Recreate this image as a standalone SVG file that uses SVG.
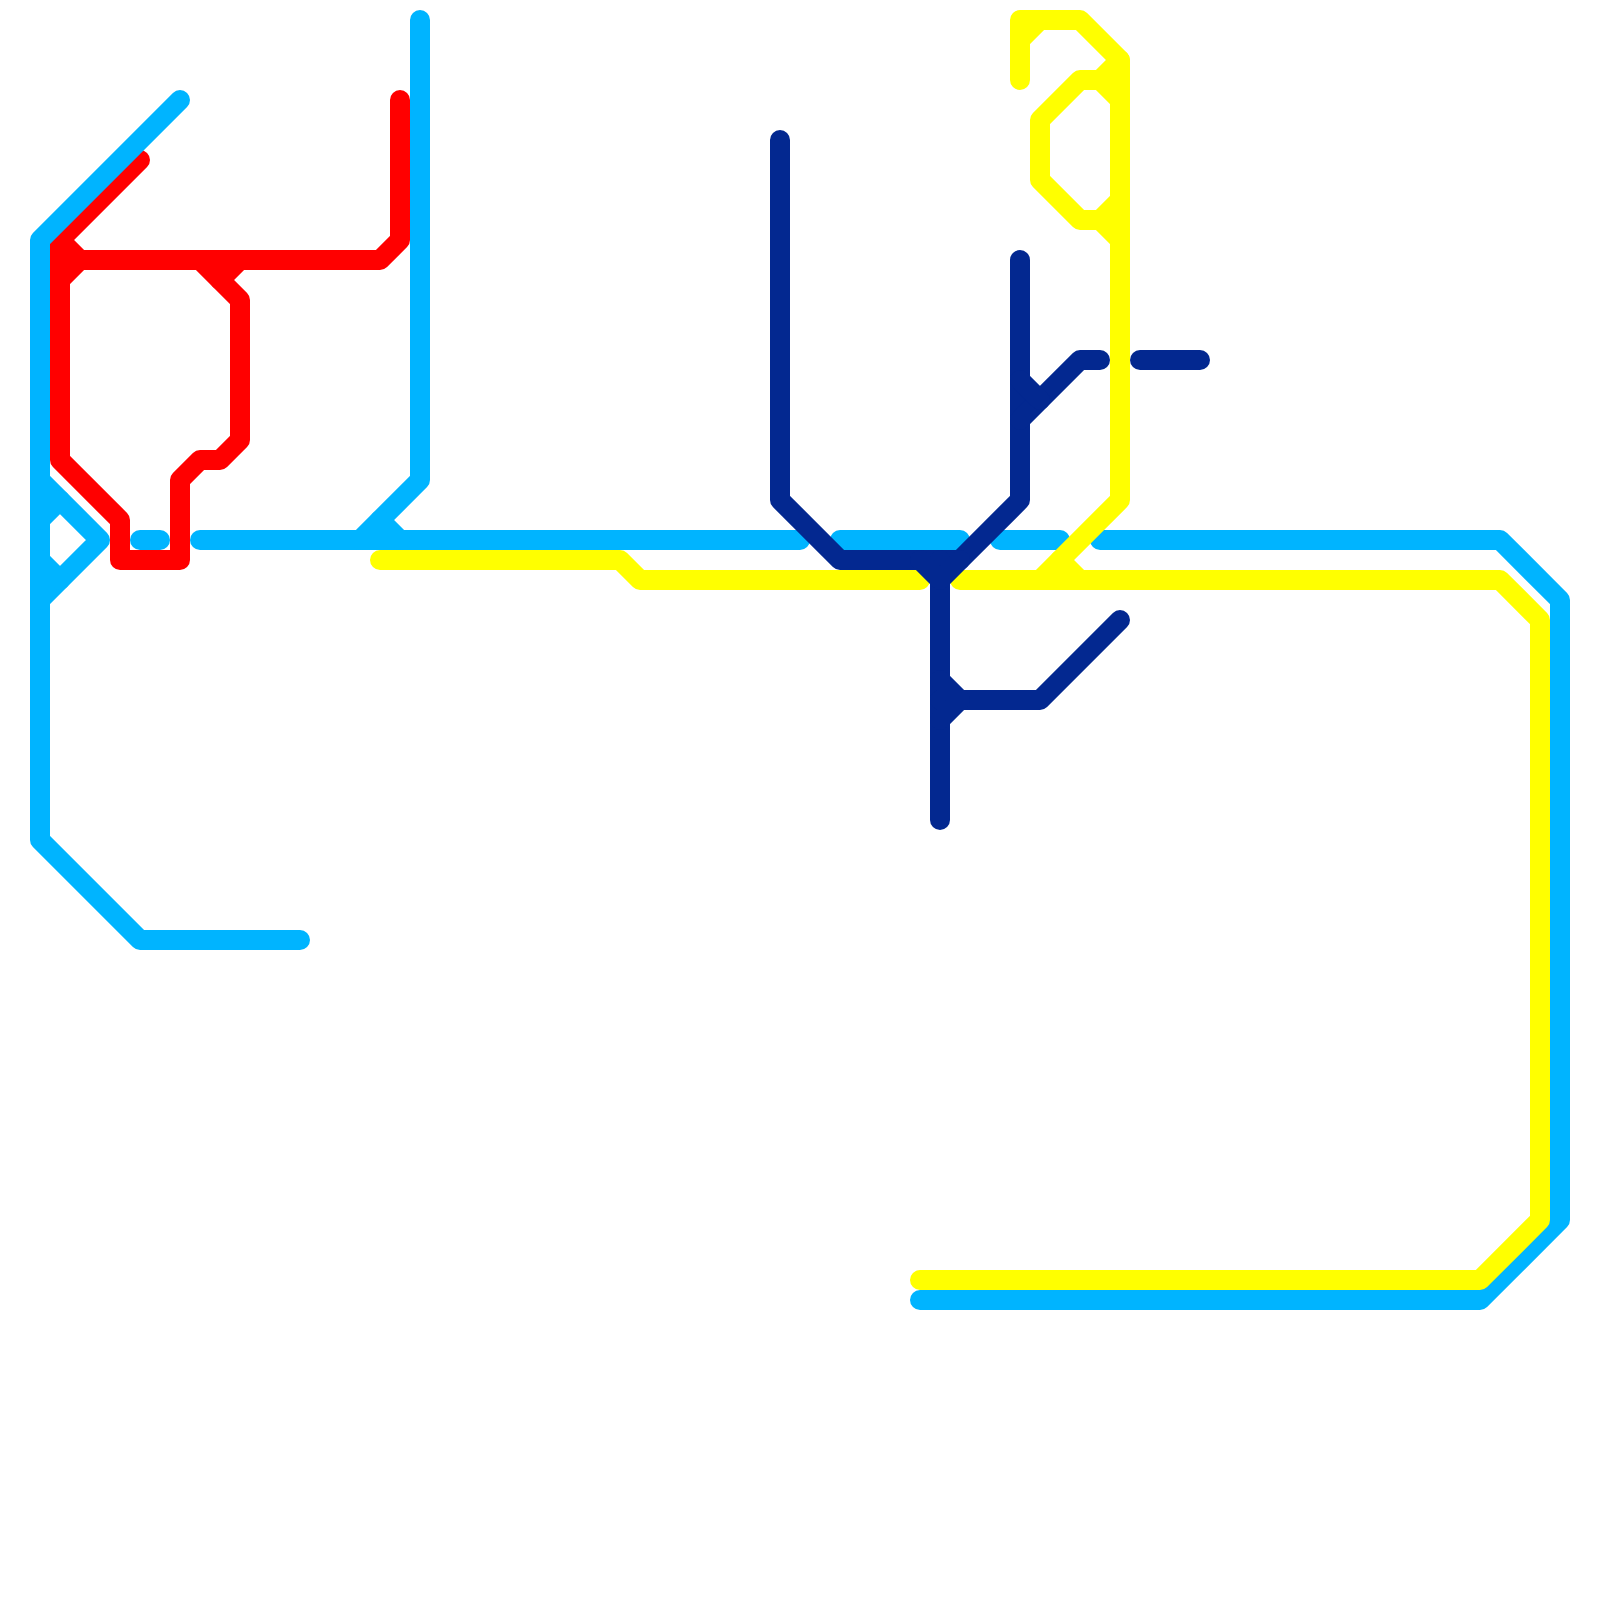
<svg xmlns="http://www.w3.org/2000/svg" width="1600" height="1600" viewBox="0 0 1600 1600">
<style>
path{fill:none;stroke-width:20;stroke-linecap:round;stroke-linejoin:round}
.red path{stroke:#ff0000}
.cyan path{stroke:#00b4ff}
.yellow path{stroke:#ffff00}
.navy path{stroke:#032890}
</style>
<rect width="1600" height="1600" fill="#ffffff"/>
<g id="connectors">
<g id="line-red" class="red">
<path d="M140 160L60 240V460L120 520V560H180V480L200 460H220L240 440V300L200 260"/>
<path d="M60 260H380L400 240V100"/>
<path d="M60 240L80 260M60 280L80 260M220 280L240 260"/>
</g>
<g id="line-cyan" class="cyan">
<path d="M180 100L40 240V840L140 940H300"/>
<path d="M40 480L100 540L40 600"/>
<path d="M40 520L60 500M40 560L60 580"/>
<path d="M140 540H160"/>
<path d="M200 540H800"/>
<path d="M420 20V480L360 540"/>
<path d="M380 520L400 540"/>
<path d="M840 540H960"/>
<path d="M1000 540H1060"/>
<path d="M1100 540H1500L1560 600V1220L1480 1300H920"/>
</g>
<g id="line-yellow" class="yellow">
<path d="M380 560H620L640 580H920"/>
<path d="M960 580H1500L1540 620V1220L1480 1280H920"/>
<path d="M1020 80V20H1080L1120 60V500L1040 580"/>
<path d="M1020 40L1040 20"/>
<path d="M1120 100L1100 80H1080L1040 120V180L1080 220H1100L1120 240"/>
<path d="M1100 80L1120 60M1100 220L1120 200"/>
<path d="M1060 560L1080 580"/>
</g>
<g id="line-navy" class="navy">
<path d="M780 140V500L840 560H960L1020 500V260"/>
<path d="M940 560V820"/>
<path d="M920 560L940 580M960 560L940 580"/>
<path d="M940 700H1040L1120 620"/>
<path d="M940 680L960 700M940 720L960 700"/>
<path d="M1020 420L1080 360H1100"/>
<path d="M1020 380L1040 400"/>
<path d="M1140 360H1200"/>
</g>
</g>
</svg>
